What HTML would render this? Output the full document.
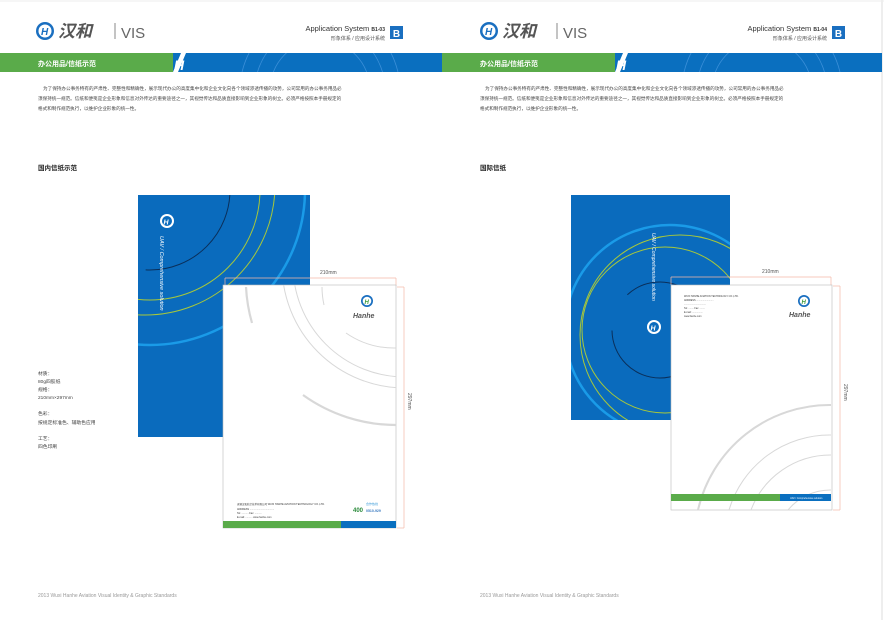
<!DOCTYPE html>
<html><head><meta charset="utf-8"><style>
html,body{margin:0;padding:0;background:#fff;overflow:hidden}
body{width:884px;height:620px;overflow:hidden;font-family:"Liberation Sans","Noto Sans CJK SC",sans-serif}
svg{display:block}
</style></head><body>
<svg width="884" height="620" viewBox="0 0 884 620" xmlns="http://www.w3.org/2000/svg" font-family="Liberation Sans, Noto Sans CJK SC, sans-serif">
<defs>
<clipPath id="c1"><rect x="138" y="195" width="172" height="242"/></clipPath>
<clipPath id="c2"><rect x="223" y="285" width="173" height="243"/></clipPath>
<clipPath id="c3"><rect x="571" y="195" width="159" height="225"/></clipPath>
<clipPath id="b1"><rect x="173" y="53" width="269" height="19"/></clipPath>
<clipPath id="b2"><rect x="615" y="53" width="267" height="19"/></clipPath>
</defs>
<line x1="882" y1="0" x2="882" y2="620" stroke="#ddd" stroke-width="1"/>
<line x1="0" y1="1" x2="884" y2="1" stroke="#eee"/>
<!-- LEFT PAGE -->
<circle cx="45" cy="31" r="9" fill="#1a6fc0"/><circle cx="45" cy="31" r="6.5" fill="#fff"/><text x="41" y="35" font-size="10" font-weight="bold" font-style="italic" fill="#1a6fc0">H</text>
<text x="58" y="37" font-size="17" font-weight="bold" font-style="italic" fill="#555">汉和</text>
<line x1="115" y1="23" x2="115" y2="39" stroke="#888"/>
<text x="121" y="38" font-size="15" fill="#666">VIS</text>
<text x="385" y="31" font-size="7.5" fill="#333" text-anchor="end">Application System <tspan font-weight="bold" font-size="5">B1-03</tspan></text>
<text x="385" y="40" font-size="5" fill="#555" text-anchor="end">形象体系 / 应用设计系统</text>
<rect x="390" y="26" width="13" height="13" fill="#1a6fc0"/><text x="396.5" y="37" font-size="10" font-weight="bold" fill="#fff" text-anchor="middle">B</text>
<rect x="0" y="53" width="181" height="19" fill="#5aab4a"/>
<rect x="173" y="53" width="269" height="19" fill="#0a6fbf"/>
<polygon points="181,53 186,53 178,72 173,72" fill="#fff"/>
<text x="174" y="70" font-size="14" font-weight="bold" font-style="italic" fill="#fff">H</text>
<g clip-path="url(#b1)" fill="none" stroke="#3b8fd8" stroke-width="0.8"><circle cx="320" cy="90" r="80"/><circle cx="320" cy="90" r="65"/><circle cx="320" cy="90" r="50"/></g>
<text x="38" y="66" font-size="7" font-weight="bold" fill="#fff">办公用品/信纸示范</text>
<g font-size="4.6" fill="#444">
<text x="43" y="90">为了保持办公事务特有的严肃性、完整性和精确性，展示现代办公的高度集中化和企业文化向各个领域渗透传播的攻势，公司常用的办公事务用品必</text>
<text x="38" y="100">须保持统一规范。信纸和便笺是企业形象和信息对外传达的重要途径之一，其视觉传达和品质直接影响到企业形象的树立。必须严格按照本手册规定的</text>
<text x="38" y="110">格式和制作规范执行，以维护企业形象的统一性。</text>
</g>
<text x="38" y="170" font-size="6.5" font-weight="bold" fill="#222">国内信纸示范</text>
<g font-size="4.8" fill="#444">
<text x="38" y="375">材质：</text><text x="38" y="383">80g四胶纸</text><text x="38" y="391">规格：</text><text x="38" y="399">210mm×297mm</text>
<text x="38" y="415">色彩：</text><text x="38" y="424">按规定标准色、辅助色应用</text>
<text x="38" y="440">工艺：</text><text x="38" y="448">四色印刷</text>
</g>
<text x="38" y="597" font-size="5" fill="#999">2013  Wuxi Hanhe Aviation Visual Identity &amp; Graphic Standards</text>
<!-- left cover -->
<rect x="138" y="195" width="172" height="242" fill="#0a6bbd"/>
<g clip-path="url(#c1)" fill="none">
<circle cx="150" cy="190" r="155" stroke="#1a9be8" stroke-width="2.5"/>
<circle cx="150" cy="190" r="110" stroke="#a8c83a" stroke-width="1"/>
<circle cx="145" cy="185" r="130" stroke="#a8c83a" stroke-width="1"/>
<circle cx="150" cy="190" r="80" stroke="#0a2f5a" stroke-width="1" stroke-dasharray="130 400"/>
</g>
<circle cx="167" cy="221" r="7" fill="#fff"/><circle cx="167" cy="221" r="5" fill="#0a6bbd"/><text x="163.5" y="224.5" font-size="7" font-weight="bold" font-style="italic" fill="#fff">H</text>
<text transform="translate(160,236) rotate(90)" font-size="5.5" font-style="italic" fill="#fff">UAV / Comprehensive solution</text>
<!-- left letterhead -->
<line x1="225" y1="278" x2="396" y2="278" stroke="#f4b8a8" stroke-width="0.7"/><line x1="225" y1="278" x2="225" y2="286" stroke="#f4b8a8" stroke-width="0.7"/><line x1="396" y1="278" x2="396" y2="286" stroke="#f4b8a8" stroke-width="0.7"/>
<text x="320" y="274" font-size="5" fill="#555">210mm</text>
<line x1="404" y1="287" x2="404" y2="528" stroke="#f4b8a8" stroke-width="0.7"/><line x1="397" y1="287" x2="404" y2="287" stroke="#f4b8a8" stroke-width="0.7"/><line x1="397" y1="528" x2="404" y2="528" stroke="#f4b8a8" stroke-width="0.7"/>
<text transform="translate(408,393) rotate(90)" font-size="5" fill="#555">297mm</text>
<rect x="223" y="285" width="173" height="243" fill="#fff" stroke="#bbb" stroke-width="0.6"/>
<g clip-path="url(#c2)" fill="none" stroke="#d8d8d8">
<circle cx="405" cy="265" r="123" stroke-width="1"/>
<circle cx="405" cy="265" r="112" stroke-width="1"/>
<path d="M246,287 A160,160 0 0 0 252,323" stroke-width="2.2"/>
<path d="M303,395 A160,160 0 0 0 396,425" stroke-width="2.2"/>
<path d="M322,287 A84,84 0 0 0 324,305" stroke-width="1"/>
<path d="M346,333 A85,85 0 0 0 396,348" stroke-width="1"/>
</g>
<circle cx="367" cy="301" r="6" fill="#1a6fc0"/><circle cx="367" cy="301" r="4.3" fill="#fff"/><text x="364.5" y="304" font-size="6" font-weight="bold" font-style="italic" fill="#3a9a3a">H</text>
<text x="353" y="318" font-size="7" font-weight="bold" font-style="italic" fill="#555">Hanhe</text>
<g font-size="2.5" fill="#333"><text x="237" y="505">无锡汉和航空技术有限公司 WUXI HANHE AVIATION TECHNOLOGY CO.,LTD.</text><text x="237" y="510">ADDRESS ...................................</text><text x="237" y="514">Tel: ..........  Fax: ..........</text><text x="237" y="518">E-mail: .......... www.hanhe.com</text></g>
<text x="353" y="512" font-size="6" font-weight="bold" fill="#2a8a3a">400</text><text x="366" y="505" font-size="3" fill="#3a9ad8">合作热线</text><text x="366" y="512" font-size="3.5" font-weight="bold" fill="#3a7ac0">0510-929</text>
<rect x="223" y="521" width="118" height="7" fill="#5aab4a"/><rect x="341" y="521" width="55" height="7" fill="#0a6fbf"/>
<!-- RIGHT PAGE -->
<circle cx="489" cy="31" r="9" fill="#1a6fc0"/><circle cx="489" cy="31" r="6.5" fill="#fff"/><text x="485" y="35" font-size="10" font-weight="bold" font-style="italic" fill="#1a6fc0">H</text>
<text x="502" y="37" font-size="17" font-weight="bold" font-style="italic" fill="#555">汉和</text>
<line x1="557" y1="23" x2="557" y2="39" stroke="#888"/>
<text x="563" y="38" font-size="15" fill="#666">VIS</text>
<text x="827" y="31" font-size="7.5" fill="#333" text-anchor="end">Application System <tspan font-weight="bold" font-size="5">B1-04</tspan></text>
<text x="827" y="40" font-size="5" fill="#555" text-anchor="end">形象体系 / 应用设计系统</text>
<rect x="832" y="26" width="13" height="13" fill="#1a6fc0"/><text x="838.5" y="37" font-size="10" font-weight="bold" fill="#fff" text-anchor="middle">B</text>
<rect x="442" y="53" width="181" height="19" fill="#5aab4a"/>
<rect x="615" y="53" width="267" height="19" fill="#0a6fbf"/>
<polygon points="623,53 628,53 620,72 615,72" fill="#fff"/>
<text x="616" y="70" font-size="14" font-weight="bold" font-style="italic" fill="#fff">H</text>
<g clip-path="url(#b2)" fill="none" stroke="#3b8fd8" stroke-width="0.8"><circle cx="762" cy="90" r="80"/><circle cx="762" cy="90" r="65"/><circle cx="762" cy="90" r="50"/></g>
<text x="480" y="66" font-size="7" font-weight="bold" fill="#fff">办公用品/信纸示范</text>
<g font-size="4.6" fill="#444">
<text x="485" y="90">为了保持办公事务特有的严肃性、完整性和精确性，展示现代办公的高度集中化和企业文化向各个领域渗透传播的攻势，公司常用的办公事务用品必</text>
<text x="480" y="100">须保持统一规范。信纸和便笺是企业形象和信息对外传达的重要途径之一，其视觉传达和品质直接影响到企业形象的树立。必须严格按照本手册规定的</text>
<text x="480" y="110">格式和制作规范执行，以维护企业形象的统一性。</text>
</g>
<text x="480" y="170" font-size="6.5" font-weight="bold" fill="#222">国际信纸</text>
<text x="480" y="597" font-size="5" fill="#999">2013  Wuxi Hanhe Aviation Visual Identity &amp; Graphic Standards</text>
<!-- right cover -->
<rect x="571" y="195" width="159" height="225" fill="#0a6bbd"/>
<g clip-path="url(#c3)" fill="none">
<circle cx="670" cy="330" r="105" stroke="#1a9be8" stroke-width="2.5"/>
<circle cx="665" cy="330" r="83" stroke="#a8c83a" stroke-width="1"/>
<circle cx="680" cy="335" r="100" stroke="#a8c83a" stroke-width="1"/>
<circle cx="660" cy="330" r="48" stroke="#0a2f5a" stroke-width="1" stroke-dasharray="150 40"/>
</g>
<circle cx="654" cy="327" r="7" fill="#fff"/><circle cx="654" cy="327" r="5" fill="#0a6bbd"/><text x="650.5" y="330.5" font-size="7" font-weight="bold" font-style="italic" fill="#fff">H</text>
<text transform="translate(652,233) rotate(90)" font-size="5" font-style="italic" fill="#fff">UAV / Comprehensive solution</text>
<!-- right letterhead -->
<line x1="671" y1="277" x2="831" y2="277" stroke="#f4b8a8" stroke-width="0.7"/><line x1="671" y1="277" x2="671" y2="285" stroke="#f4b8a8" stroke-width="0.7"/><line x1="831" y1="277" x2="831" y2="285" stroke="#f4b8a8" stroke-width="0.7"/>
<text x="762" y="273" font-size="5" fill="#555">210mm</text>
<line x1="840" y1="286" x2="840" y2="510" stroke="#f4b8a8" stroke-width="0.7"/><line x1="833" y1="286" x2="840" y2="286" stroke="#f4b8a8" stroke-width="0.7"/><line x1="833" y1="510" x2="840" y2="510" stroke="#f4b8a8" stroke-width="0.7"/>
<text transform="translate(844,384) rotate(90)" font-size="5" fill="#555">297mm</text>
<rect x="671" y="285" width="161" height="225" fill="#fff" stroke="#bbb" stroke-width="0.6"/>
<g fill="none" stroke="#d8d8d8">
<path d="M698,510 A135,135 0 0 1 831,405" stroke-width="2"/>
<path d="M729,510 A105,105 0 0 1 831,435" stroke-width="1"/>
<path d="M751,510 A85,85 0 0 1 831,455" stroke-width="1"/>
<path d="M788,510 A55,55 0 0 1 831,490" stroke-width="1"/>
</g>
<g font-size="2.4" fill="#333"><text x="684" y="297">WUXI HANHE AVIATION TECHNOLOGY CO.,LTD.</text><text x="684" y="301">ADDRESS ..........................</text><text x="684" y="305">.................................</text><text x="684" y="309">Tel: ........ Fax: ........</text><text x="684" y="313">E-mail: ................</text><text x="684" y="317">www.hanhe.com</text></g>
<circle cx="804" cy="301" r="6" fill="#1a6fc0"/><circle cx="804" cy="301" r="4.3" fill="#fff"/><text x="801.5" y="304" font-size="6" font-weight="bold" font-style="italic" fill="#3a9a3a">H</text>
<text x="789" y="317" font-size="7" font-weight="bold" font-style="italic" fill="#555">Hanhe</text>
<rect x="671" y="494" width="109" height="7" fill="#5aab4a"/><rect x="780" y="494" width="51" height="7" fill="#0a6fbf"/>
<text x="790" y="499" font-size="2.4" fill="#fff">UAV / Comprehensive solution</text>
</svg>
</body></html>
